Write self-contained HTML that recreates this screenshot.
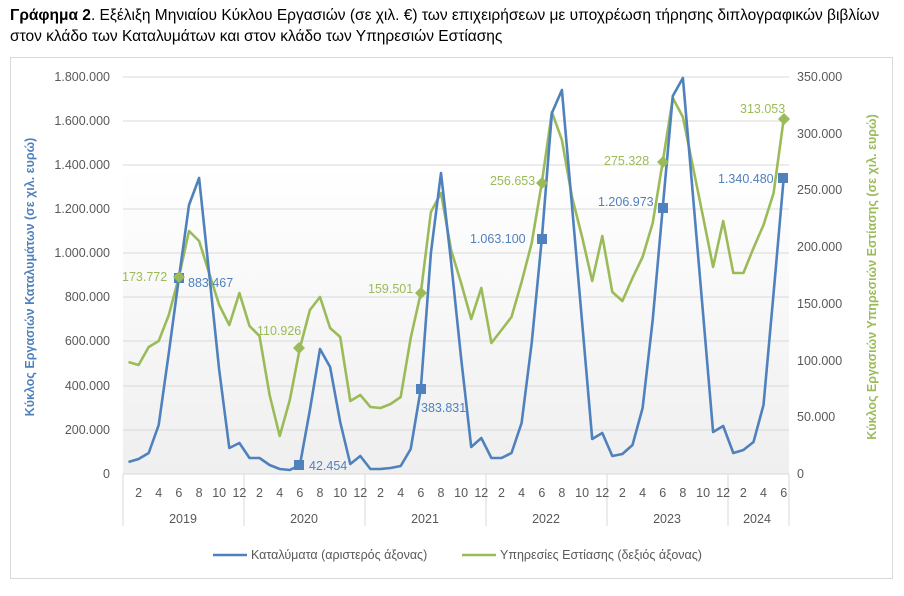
<!DOCTYPE html>
<html><head><meta charset="utf-8"><style>
body{margin:0;background:#fff;width:904px;height:596px;overflow:hidden;font-family:"Liberation Sans","DejaVu Sans",sans-serif;}
.t{position:absolute;left:10px;top:5px;font-size:15.5px;line-height:21px;color:#000;width:892px;white-space:nowrap}
</style></head><body>
<div class="t"><b>Γράφημα 2</b>. Εξέλιξη Μηνιαίου Κύκλου Εργασιών (σε χιλ. €) των επιχειρήσεων με υποχρέωση τήρησης διπλογραφικών βιβλίων<br>στον κλάδο των Καταλυμάτων και στον κλάδο των Υπηρεσιών Εστίασης</div>
<svg width="904" height="596" style="position:absolute;left:0;top:0" xmlns="http://www.w3.org/2000/svg" font-family="Liberation Sans, DejaVu Sans, sans-serif">
<defs><linearGradient id="g" x1="0" y1="0" x2="0" y2="1"><stop offset="0" stop-color="#fff"/><stop offset="1" stop-color="#efefef"/></linearGradient></defs>
<rect x="10.5" y="57.5" width="882" height="521" fill="#fff" stroke="#d9d9d9"/>
<rect x="123" y="165" width="666" height="309" fill="url(#g)"/>
<g stroke="#d9d9d9" stroke-width="1">
<line x1="123" x2="789" y1="77" y2="77"/><line x1="123" x2="789" y1="121" y2="121"/><line x1="123" x2="789" y1="165" y2="165"/><line x1="123" x2="789" y1="209" y2="209"/><line x1="123" x2="789" y1="253" y2="253"/><line x1="123" x2="789" y1="297" y2="297"/><line x1="123" x2="789" y1="341" y2="341"/><line x1="123" x2="789" y1="386" y2="386"/><line x1="123" x2="789" y1="430" y2="430"/><line x1="123" x2="789" y1="474" y2="474"/>
<line x1="123" x2="123" y1="474" y2="526"/><line x1="244" x2="244" y1="474" y2="526"/><line x1="365" x2="365" y1="474" y2="526"/><line x1="486" x2="486" y1="474" y2="526"/><line x1="607" x2="607" y1="474" y2="526"/><line x1="728" x2="728" y1="474" y2="526"/><line x1="789" x2="789" y1="474" y2="526"/>
</g>
<g font-size="12.5" fill="#595959" text-anchor="end">
<text x="110" y="81">1.800.000</text><text x="110" y="125">1.600.000</text><text x="110" y="169">1.400.000</text><text x="110" y="213">1.200.000</text><text x="110" y="257">1.000.000</text><text x="110" y="301">800.000</text><text x="110" y="345">600.000</text><text x="110" y="390">400.000</text><text x="110" y="434">200.000</text><text x="110" y="478">0</text>
</g>
<g font-size="12.5" fill="#595959" text-anchor="start">
<text x="797" y="81">350.000</text><text x="797" y="138">300.000</text><text x="797" y="194">250.000</text><text x="797" y="251">200.000</text><text x="797" y="308">150.000</text><text x="797" y="365">100.000</text><text x="797" y="421">50.000</text><text x="797" y="478">0</text>
</g>
<g font-size="12.5" fill="#595959" text-anchor="middle" id="mt"></g>
<g font-size="12.5" fill="#595959" text-anchor="middle">
<text x="183" y="523">2019</text><text x="304" y="523">2020</text><text x="425" y="523">2021</text><text x="546" y="523">2022</text><text x="667" y="523">2023</text><text x="757" y="523">2024</text>
</g>
<text transform="translate(34,277) rotate(-90)" text-anchor="middle" font-size="12.5" font-weight="bold" fill="#4F81BD">Κύκλος Εργασιών Καταλυμάτων (σε χιλ. ευρώ)</text>
<text transform="translate(876,277) rotate(-90)" text-anchor="middle" font-size="12.5" font-weight="bold" fill="#9BBB59">Κύκλος Εργασιών Υπηρεσιών Εστίασης (σε χιλ. ευρώ)</text>
<polyline id="gl" fill="none" stroke="#9BBB59" stroke-width="2.6" stroke-linejoin="round"/>
<polyline id="bl" fill="none" stroke="#4F81BD" stroke-width="2.6" stroke-linejoin="round"/>
<g fill="#4F81BD">
<rect x="174" y="273" width="10" height="10"/><rect x="294" y="460" width="10" height="10"/><rect x="416" y="384" width="10" height="10"/><rect x="537" y="234" width="10" height="10"/><rect x="658" y="203" width="10" height="10"/><rect x="778" y="173" width="10" height="10"/>
</g>
<g fill="#9BBB59">
<polygon points="179,271 185,277 179,283 173,277"/><polygon points="299,342 305,348 299,354 293,348"/><polygon points="421,287 427,293 421,299 415,293"/><polygon points="542,177 548,183 542,189 536,183"/><polygon points="663,156 669,162 663,168 657,162"/><polygon points="784,113 790,119 784,125 778,119"/>
</g>
<g font-size="12.5" fill="#4F81BD">
<text x="188" y="287">883.467</text><text x="309" y="470">42.454</text><text x="421" y="412">383.831</text><text x="470" y="243">1.063.100</text><text x="598" y="206">1.206.973</text><text x="718" y="183">1.340.480</text>
</g>
<g font-size="12.5" fill="#9BBB59">
<text x="122" y="281">173.772</text><text x="257" y="335">110.926</text><text x="368" y="293">159.501</text><text x="490" y="185">256.653</text><text x="604" y="165">275.328</text><text x="740" y="113">313.053</text>
</g>
<line x1="213" x2="247" y1="555" y2="555" stroke="#4F81BD" stroke-width="2.6"/>
<text x="251" y="559" font-size="12.5" fill="#595959">Καταλύματα (αριστερός άξονας)</text>
<line x1="462" x2="496" y1="555" y2="555" stroke="#9BBB59" stroke-width="2.6"/>
<text x="500" y="559" font-size="12.5" fill="#595959">Υπηρεσίες Εστίασης (δεξιός άξονας)</text>
</svg>
<script>
var B=[462,459,453,425,353,278,205,178,273,370,448,443,458,458,465,469,470,465,410,349,367,422,464,456,469,469,468,466,449,389,253,173,262,358,447,438,458,458,453,423,343,239,113,90,206,322,439,433,456,454,445,408,320,208,96,78,196,314,432,426,453,450,442,405,293,178];
var G=[362,365,347,341,315,277,231,241,273,305,325,293,326,336,395,436,400,348,310,297,328,337,401,395,407,408,404,397,338,293,212,193,250,283,319,288,343,330,317,282,243,183,112,140,197,237,281,236,292,301,278,257,223,162,98,117,167,217,267,221,273,273,248,225,193,119];
function p(a){return a.map(function(y,i){return (128.5+i*10.08).toFixed(1)+","+y}).join(" ");}
document.getElementById("bl").setAttribute("points",p(B));
document.getElementById("gl").setAttribute("points",p(G));
var mt=document.getElementById("mt"),s="";
for(var i=1;i<66;i+=2){var m=(i%12)+1;s+='<text x="'+(128.5+i*10.08).toFixed(1)+'" y="497">'+m+'</text>';}
mt.innerHTML=s;
</script>
</body></html>
